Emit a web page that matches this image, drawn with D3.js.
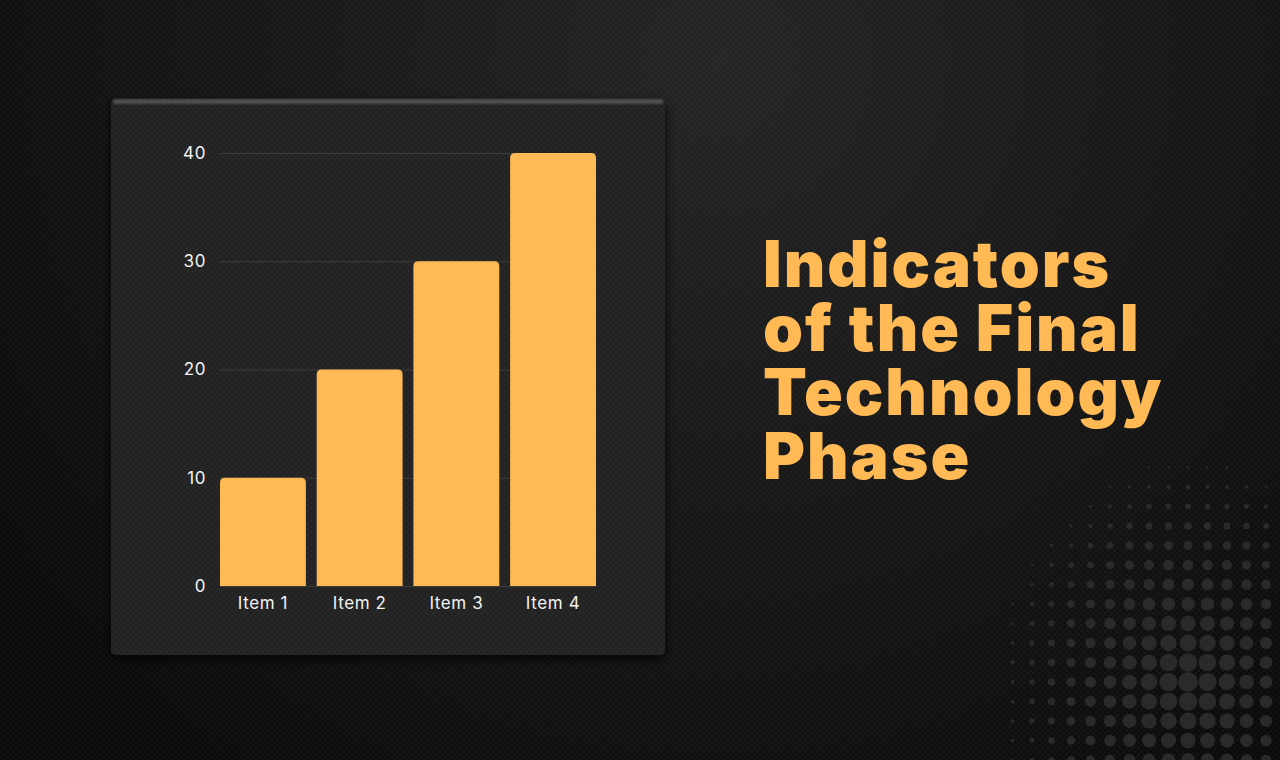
<!DOCTYPE html>
<html lang="en">
<head>
<meta charset="utf-8">
<title>Indicators of the Final Technology Phase</title>
<script src="https://cdn.jsdelivr.net/npm/d3@7"></script>
<style>
  body { margin: 0; background: #121212; overflow: hidden; }
  svg { display: block; }
</style>
</head>
<body>
<script>
// data
var categories = ["Item 1", "Item 2", "Item 3", "Item 4"];
var values = [10, 20, 30, 40];
var yTicks = [0, 10, 20, 30, 40];
var titleLines = ["Indicators", "of the Final", "Technology", "Phase"];

var W = 1280, H = 760;
var accent = "#FFBA55";

var svg = d3.select("body").append("svg")
  .attr("width", W)
  .attr("height", H);

var defs = svg.append("defs");

// background glow
var bg = defs.append("radialGradient")
  .attr("id", "bgGlow")
  .attr("gradientUnits", "userSpaceOnUse")
  .attr("cx", 720).attr("cy", 60).attr("r", 900);
bg.append("stop").attr("offset", "0%").attr("stop-color", "#252525");
bg.append("stop").attr("offset", "55%").attr("stop-color", "#161616");
bg.append("stop").attr("offset", "100%").attr("stop-color", "#0a0a0a");

// fine crosshatch texture
var tex = defs.append("pattern")
  .attr("id", "tex")
  .attr("width", 6).attr("height", 6)
  .attr("patternUnits", "userSpaceOnUse");
tex.append("rect").attr("width", 3).attr("height", 3).attr("fill", "#fff").attr("opacity", 0.025);
tex.append("rect").attr("x", 3).attr("y", 3).attr("width", 3).attr("height", 3).attr("fill", "#fff").attr("opacity", 0.025);

// panel shadow
var sh = defs.append("filter").attr("id", "shadow")
  .attr("x", "-20%").attr("y", "-20%").attr("width", "140%").attr("height", "140%");
sh.append("feDropShadow").attr("dx", 0).attr("dy", 4).attr("stdDeviation", 6)
  .attr("flood-color", "#000").attr("flood-opacity", 0.8);

var edgeBlur = defs.append("filter").attr("id", "edgeBlur");
edgeBlur.append("feGaussianBlur").attr("stdDeviation", 0.8);

svg.append("rect").attr("width", W).attr("height", H).attr("fill", "url(#bgGlow)");
svg.append("rect").attr("width", W).attr("height", H).attr("fill", "url(#tex)");

// halftone dots bottom right
var dots = svg.append("g");
var cx = 1188, cy = 682, step = 19.5;
d3.range(-12, 6).forEach(function(i) {
  d3.range(-11, 5).forEach(function(j) {
    var x = cx + i * step, y = cy + j * step;
    var d = Math.sqrt(Math.pow((x - cx) * 1.15, 2) + Math.pow(y - cy, 2));
    var r = 10 - d * 0.04;
    if (r < 1.2 || x > W + 10 || y > H + 10) return;
    dots.append("circle")
      .attr("cx", x).attr("cy", y).attr("r", r)
      .attr("fill", "#2a2a2a");
  });
});

// chart panel
var panel = { x: 111, y: 99, w: 554, h: 556 };
svg.append("rect")
  .attr("x", panel.x).attr("y", panel.y)
  .attr("width", panel.w).attr("height", panel.h)
  .attr("rx", 5)
  .attr("fill", "#232323")
  .attr("filter", "url(#shadow)");
svg.append("rect")
  .attr("x", panel.x).attr("y", panel.y)
  .attr("width", panel.w).attr("height", panel.h)
  .attr("rx", 5)
  .attr("fill", "url(#tex)");
svg.append("rect")
  .attr("x", panel.x + 2).attr("y", panel.y)
  .attr("width", panel.w - 4).attr("height", 5)
  .attr("rx", 2)
  .attr("fill", "#505050")
  .attr("filter", "url(#edgeBlur)");

// scales
var x = d3.scaleBand()
  .domain(categories)
  .range([220, 596])
  .paddingInner(0.112)
  .paddingOuter(0);

var y = d3.scaleLinear()
  .domain([0, 40])
  .range([586, 153]);

// gridlines
svg.append("g")
  .attr("transform", "translate(220,0)")
  .call(d3.axisLeft(y).tickValues(yTicks).tickSize(-376).tickFormat(""))
  .call(function(g) {
    g.select(".domain").remove();
    g.selectAll("line").attr("stroke", "#3d3d3d").attr("stroke-width", 1);
  });

// y labels
svg.append("g")
  .attr("transform", "translate(206,0)")
  .call(d3.axisLeft(y).tickValues(yTicks).tickSize(0).tickPadding(0))
  .call(function(g) {
    g.select(".domain").remove();
    g.selectAll("text")
      .attr("fill", "#f2f2f2")
      .attr("font-family", "Inter, Lato, sans-serif")
      .attr("font-size", 17)
      .attr("letter-spacing", 0.6);
  });

// bars with rounded tops
function barPath(d, i) {
  var x0 = x(categories[i]), bw = x.bandwidth();
  var top = y(d), bot = y(0), r = 5;
  return "M" + x0 + "," + bot +
    "V" + (top + r) +
    "Q" + x0 + "," + top + " " + (x0 + r) + "," + top +
    "H" + (x0 + bw - r) +
    "Q" + (x0 + bw) + "," + top + " " + (x0 + bw) + "," + (top + r) +
    "V" + bot + "Z";
}

svg.append("g").selectAll("path")
  .data(values)
  .enter()
  .append("path")
  .attr("d", barPath)
  .attr("fill", accent);

// x labels
svg.append("g")
  .attr("transform", "translate(0,586)")
  .call(d3.axisBottom(x).tickSize(0).tickPadding(11))
  .call(function(g) {
    g.select(".domain").remove();
    g.selectAll("text")
      .attr("fill", "#f2f2f2")
      .attr("font-family", "Inter, Lato, sans-serif")
      .attr("font-size", 17)
      .attr("letter-spacing", 0.6);
  });

// title, one text block with a tspan per line
var title = svg.append("text")
  .attr("x", 763)
  .attr("y", 287)
  .attr("fill", accent)
  .attr("font-family", "Inter, Lato, sans-serif")
  .attr("font-weight", 900)
  .attr("font-size", 64)
  .attr("letter-spacing", 2);

title.selectAll("tspan")
  .data(titleLines)
  .enter()
  .append("tspan")
  .attr("x", 763)
  .attr("dy", function(d, i) { return i === 0 ? 0 : 64; })
  .text(function(d) { return d; });
</script>
</body>
</html>
